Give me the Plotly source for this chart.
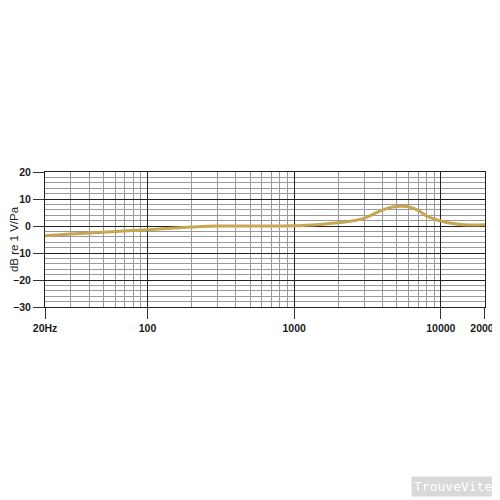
import math
import plotly.graph_objects as go

# frequency response (Hz, dB re 1 V/Pa)
freq = [20, 30, 50, 100, 200, 300, 500, 1000, 1500, 2000, 2500, 3000, 3500,
        4000, 4500, 5000, 5500, 6000, 7000, 8000, 9000, 10000, 12000, 15000, 20000]
level = [-3.6, -3.0, -2.3, -1.4, -0.4, 0.0, 0.0, 0.1, 0.6, 1.2, 1.9, 2.8, 4.5,
         5.9, 6.8, 7.2, 7.3, 7.1, 5.8, 3.7, 2.6, 1.8, 0.9, 0.4, 0.5]

x_ticks = [20, 100, 1000, 10000, 20000]
x_labels = ["20Hz", "100", "1000", "10000", "20000"]
y_ticks = [20, 10, 0, -10, -20, -30]

x_minor = [m * d for d in (10, 100, 1000) for m in range(2, 10) if 20 < m * d < 20000]
x_minor = [v for v in x_minor if v not in (100, 1000, 10000)]

fig = go.Figure()

fig.add_trace(go.Scatter(
    x=freq, y=level, mode="lines",
    line=dict(color="#c8a550", width=3, shape="spline", smoothing=1.0),
    showlegend=False, hoverinfo="skip"
))

tick_font = dict(family="Liberation Sans, Arial", size=10.5, color="#1a1a1a", weight="bold")

fig.update_xaxes(
    type="log", range=[math.log10(20) - 0.0005, math.log10(20000) + 0.0005],
    tickvals=x_ticks, ticktext=x_labels,
    ticks="outside", ticklen=11, tickcolor="#333",
    showgrid=True, gridcolor="#222", gridwidth=1,
    minor=dict(tickvals=x_minor, showgrid=True, gridcolor="#9a9a9a", gridwidth=0.8, ticks=""),
    showline=True, linecolor="#222", linewidth=1, mirror=True,
    tickfont=tick_font, zeroline=False, automargin=False,
    ticklabeloverflow="allow"
)
fig.update_yaxes(
    range=[-30, 20],
    tickvals=y_ticks,
    ticks="outside", ticklen=11, tickcolor="#333",
    showgrid=True, gridcolor="#222", gridwidth=1,
    minor=dict(dtick=2, showgrid=True, gridcolor="#9a9a9a", gridwidth=0.8, ticks=""),
    showline=True, linecolor="#222", linewidth=1, mirror=True,
    tickfont=tick_font,
    title=dict(text="dB re 1 V/Pa", font=dict(family="Liberation Sans, Arial", size=11.5, color="#222"),
               standoff=2),
    zeroline=False, automargin=False, ticklabeloverflow="allow"
)

fig.add_annotation(
    text="TrouveVite", xref="paper", yref="paper", x=1.022, y=-1.33,
    xanchor="right", yanchor="middle", showarrow=False,
    font=dict(family="DejaVu Sans Mono", size=13, color="white"),
    bgcolor="#d9d9d9", borderpad=2
)

# page body adds an 8px offset, so margins are shifted to compensate
fig.update_layout(
    width=500, height=500,
    margin=dict(l=37, r=23, t=164, b=201),
    paper_bgcolor="white", plot_bgcolor="white",
    font=dict(family="Liberation Sans, Arial")
)

fig.write_html("out.html")
